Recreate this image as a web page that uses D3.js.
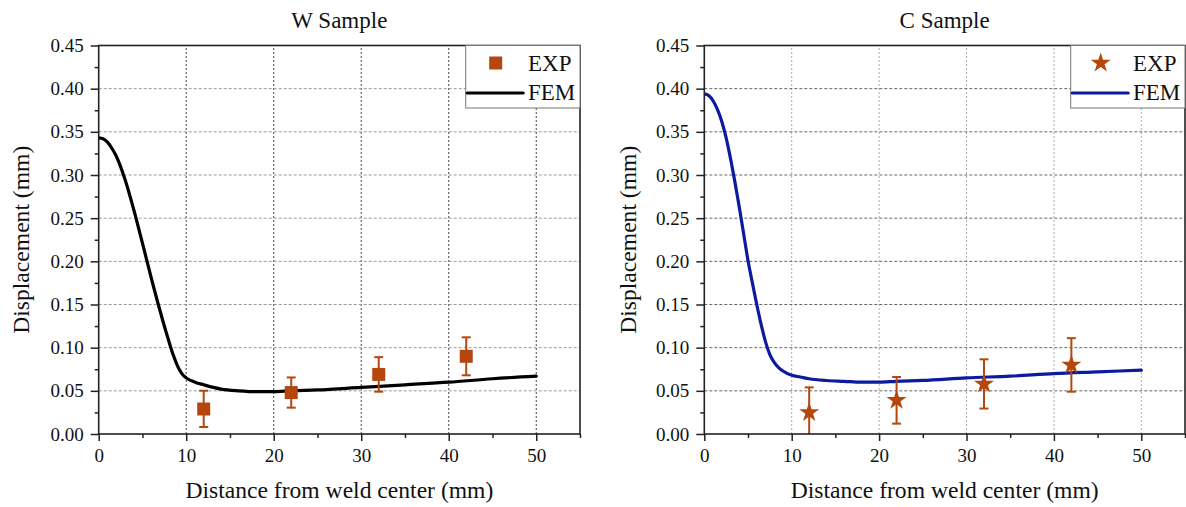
<!DOCTYPE html>
<html>
<head>
<meta charset="utf-8">
<script src="https://cdn.jsdelivr.net/npm/d3@7"></script>
<style>
  body { margin: 0; background: #fff; }
  svg { display: block; }
  svg text { font-family: "Liberation Serif", "Times New Roman", Times, "DejaVu Serif", serif !important; }
</style>
</head>
<body>
<div id="chart"></div>
<script>
// ---- data ----
const xTicks = [0, 10, 20, 30, 40, 50];
const xMinor = [5, 15, 25, 35, 45, 55];
const yTicks = [0, 0.05, 0.10, 0.15, 0.20, 0.25, 0.30, 0.35, 0.40, 0.45];
const yMinor = [0.025, 0.075, 0.125, 0.175, 0.225, 0.275, 0.325, 0.375, 0.425];

// W sample
const wFemX = [0, 0.5, 1, 1.5, 2, 3, 4, 5, 6, 7, 8, 8.5, 9, 9.5, 10, 11, 12, 14, 16, 18, 20, 22, 25, 30, 35, 40, 45, 50];
const wFemY = [0.343, 0.342, 0.338, 0.331, 0.322, 0.295, 0.260, 0.221, 0.181, 0.143, 0.108, 0.092, 0.079, 0.070, 0.065, 0.060, 0.057, 0.052, 0.050, 0.049, 0.049, 0.050, 0.051, 0.054, 0.057, 0.060, 0.064, 0.067];
const wExpX = [12, 22, 32, 42];
const wExpY = [0.029, 0.048, 0.069, 0.090];
const wExpErr = [0.021, 0.0175, 0.020, 0.022];

// C sample
const cFemX = [0, 0.5, 1, 1.5, 2, 2.5, 3, 3.5, 4, 4.5, 5, 5.5, 6, 6.5, 7, 7.5, 8, 8.5, 9, 10, 11, 12, 14, 16, 18, 20, 22, 25, 30, 35, 40, 45, 50];
const cFemY = [0.394, 0.392, 0.386, 0.376, 0.362, 0.343, 0.319, 0.292, 0.263, 0.232, 0.201, 0.175, 0.150, 0.127, 0.107, 0.092, 0.083, 0.077, 0.073, 0.068, 0.066, 0.064, 0.062, 0.061, 0.060, 0.060, 0.061, 0.062, 0.065, 0.067, 0.070, 0.072, 0.074];
const cExpX = [12, 22, 32, 42];
const cExpY = [0.025, 0.039, 0.058, 0.080];
const cExpErr = [0.029, 0.027, 0.0285, 0.031];

const expColor = "#b5470e";

const svg = d3.select("#chart").append("svg")
    .attr("width", 1186)
    .attr("height", 507);

const panels = [
    { title: "W Sample", left: 98.7, right: 580, yLabelX: 21,
      femX: wFemX, femY: wFemY, femColor: "#000000",
      expX: wExpX, expY: wExpY, expErr: wExpErr, marker: "square",
      vGrid: "#444", hGrid: "#999", id: "w" },
    { title: "C Sample", left: 704.3, right: 1185, yLabelX: 628,
      femX: cFemX, femY: cFemY, femColor: "#0b1a9e",
      expX: cExpX, expY: cExpY, expErr: cExpErr, marker: "star",
      vGrid: "#aaa", hGrid: "#666", id: "c" }
];

const plotTop = 45.5, plotBottom = 434;

function drawPanel(p) {
    const g = svg.append("g");
    const x = d3.scaleLinear().domain([0, 55]).range([p.left, p.right]);
    const y = d3.scaleLinear().domain([0, 0.45]).range([plotBottom, plotTop]);

    // grid lines
    g.append("g").selectAll("line")
        .data(xTicks.filter(d => d > 0))
        .join("line")
        .attr("x1", d => x(d)).attr("x2", d => x(d))
        .attr("y1", plotBottom).attr("y2", plotTop)
        .attr("stroke", p.vGrid)
        .attr("stroke-width", 1)
        .attr("stroke-dasharray", "2,2");

    g.append("g").selectAll("line")
        .data(yTicks.filter(d => d > 0 && d < 0.45))
        .join("line")
        .attr("x1", p.left).attr("x2", p.right)
        .attr("y1", d => y(d)).attr("y2", d => y(d))
        .attr("stroke", p.hGrid)
        .attr("stroke-width", 1)
        .attr("stroke-dasharray", "3,2");

    // clip for data
    g.append("defs").append("clipPath")
        .attr("id", "clip-" + p.id)
        .append("rect")
        .attr("x", p.left).attr("y", plotTop)
        .attr("width", p.right - p.left).attr("height", plotBottom - plotTop);

    const plot = g.append("g").attr("clip-path", `url(#clip-${p.id})`);

    // FEM line
    const pts = p.femX.map((v, i) => [v, p.femY[i]]);
    plot.append("path")
        .datum(pts)
        .attr("fill", "none")
        .attr("stroke", p.femColor)
        .attr("stroke-width", 3.2)
        .attr("stroke-linecap", "round")
        .attr("d", d3.line().x(d => x(d[0])).y(d => y(d[1])).curve(d3.curveMonotoneX));

    // EXP error bars + markers
    const exp = p.expX.map((v, i) => ({ x: v, y: p.expY[i], e: p.expErr[i] }));
    const eb = plot.append("g").attr("stroke", expColor).attr("stroke-width", 2);
    exp.forEach(d => {
        eb.append("line")
            .attr("x1", x(d.x)).attr("x2", x(d.x))
            .attr("y1", y(d.y - d.e)).attr("y2", y(d.y + d.e));
        [d.y - d.e, d.y + d.e].forEach(v => {
            eb.append("line")
                .attr("x1", x(d.x) - 4.5).attr("x2", x(d.x) + 4.5)
                .attr("y1", y(v)).attr("y2", y(v));
        });
    });

    const sym = p.marker === "square"
        ? d3.symbol(d3.symbolSquare, 169)
        : d3.symbol(d3.symbolStar, 125);
    plot.append("g").selectAll("path")
        .data(exp)
        .join("path")
        .attr("transform", d => `translate(${x(d.x)},${y(d.y)})`)
        .attr("d", sym)
        .attr("fill", expColor);

    // frame
    g.append("rect")
        .attr("x", p.left).attr("y", plotTop)
        .attr("width", p.right - p.left).attr("height", plotBottom - plotTop)
        .attr("fill", "none")
        .attr("stroke", "#222")
        .attr("stroke-width", 1.6);

    // axes
    const xAxis = g.append("g")
        .attr("transform", `translate(0,${plotBottom})`)
        .call(d3.axisBottom(x).tickValues(xTicks).tickSize(7).tickSizeOuter(0).tickPadding(8));
    g.append("g")
        .attr("transform", `translate(0,${plotBottom})`)
        .call(d3.axisBottom(x).tickValues(xMinor).tickSize(4).tickSizeOuter(0).tickFormat(""));
    const yAxis = g.append("g")
        .attr("transform", `translate(${p.left},0)`)
        .call(d3.axisLeft(y).tickValues(yTicks).tickSize(8).tickSizeOuter(0).tickPadding(7).tickFormat(d3.format(".2f")));
    g.append("g")
        .attr("transform", `translate(${p.left},0)`)
        .call(d3.axisLeft(y).tickValues(yMinor).tickSize(4).tickSizeOuter(0).tickFormat(""));

    g.selectAll(".domain").remove();
    g.selectAll(".tick line").attr("stroke", "#222").attr("stroke-width", 1.5);
    [xAxis, yAxis].forEach(a => a.selectAll("text")
        .attr("font-size", 19)
        .attr("fill", "#111"));

    // titles
    g.append("text")
        .attr("x", (p.left + p.right) / 2).attr("y", 28)
        .attr("text-anchor", "middle")
        .attr("font-size", 23)
        .attr("fill", "#111")
        .text(p.title);

    g.append("text")
        .attr("x", (p.left + p.right) / 2).attr("y", 498)
        .attr("text-anchor", "middle")
        .attr("font-size", 23.6)
        .attr("fill", "#111")
        .text("Distance from weld center (mm)");

    g.append("text")
        .attr("transform", `translate(${p.yLabelX},${(plotTop + plotBottom) / 2}) rotate(-90)`)
        .attr("text-anchor", "middle")
        .attr("dy", "0.35em")
        .attr("font-size", 23.6)
        .attr("fill", "#111")
        .text("Displacement (mm)");

    // legend
    const lx = p.right - 114.3;
    const leg = g.append("g");
    leg.append("rect")
        .attr("x", lx).attr("y", plotTop)
        .attr("width", 114.3).attr("height", 62.5)
        .attr("fill", "#fff")
        .attr("stroke", "#777")
        .attr("stroke-width", 1);
    leg.append("path")
        .attr("transform", `translate(${lx + 30},63)`)
        .attr("d", sym)
        .attr("fill", expColor);
    leg.append("line")
        .attr("x1", lx + 1.5).attr("x2", lx + 57.5)
        .attr("y1", 93).attr("y2", 93)
        .attr("stroke", p.femColor)
        .attr("stroke-width", 3.2)
        .attr("stroke-linecap", "round");
    leg.append("text")
        .attr("x", lx + 62.3).attr("y", 71)
        .attr("font-size", 23).attr("fill", "#111")
        .text("EXP");
    leg.append("text")
        .attr("x", lx + 62.3).attr("y", 100)
        .attr("font-size", 23).attr("fill", "#111")
        .text("FEM");
}

panels.forEach(drawPanel);
</script>
</body>
</html>
